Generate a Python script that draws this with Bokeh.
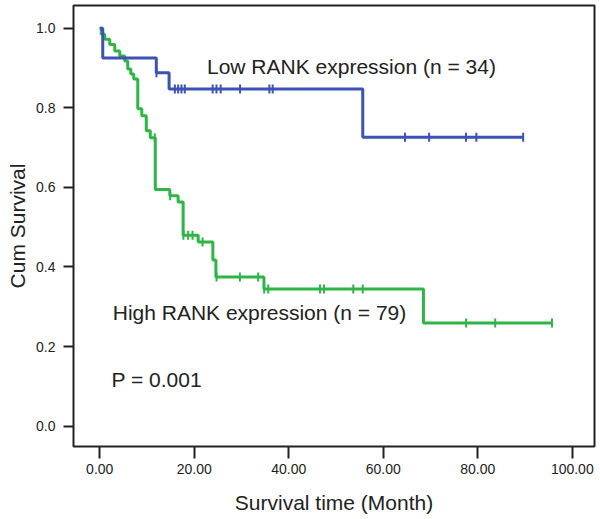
import numpy as np
from bokeh.plotting import figure
from bokeh.models import Label, PrintfTickFormatter, FixedTicker, Range1d
from bokeh.embed import file_html
from bokeh.resources import INLINE

# ---- data ----
low_event_times = [0.64, 11.97, 14.68, 55.66]
low_event_surv = [0.925, 0.888, 0.847, 0.726]
low_censor_times = [12.0, 15.9, 16.6, 17.3, 18.0, 23.9, 24.7, 25.6, 29.7, 35.9, 36.6,
                    64.6, 69.7, 77.5, 79.7, 89.6]
low_end_time = 89.6

high_event_times = [0.32, 1.06, 2.12, 3.18, 4.24, 5.30, 5.93, 6.57, 7.20, 8.05, 8.90,
                    9.85, 10.70, 11.76, 14.83, 16.59, 17.65, 20.83, 23.94, 24.58, 34.75, 68.5]
high_event_surv = [0.985, 0.9725, 0.959, 0.9425, 0.93, 0.9175, 0.8975, 0.885, 0.8725,
                   0.7975, 0.78, 0.7425, 0.725, 0.595, 0.579, 0.563, 0.48, 0.463,
                   0.4175, 0.375, 0.345, 0.259]
high_censor_times = [11.65, 14.9, 17.7, 18.71, 19.64, 21.76, 24.72, 29.66, 33.54,
                     34.8, 35.66, 46.6, 47.46, 53.66, 55.66, 77.54, 83.69, 95.7]
high_end_time = 95.7

x_ticks = [0, 20, 40, 60, 80, 100]
y_ticks = [0.0, 0.2, 0.4, 0.6, 0.8, 1.0]

low_label = "Low RANK expression (n = 34)"
high_label = "High RANK expression (n = 79)"
p_label = "P = 0.001"

BLUE = "#3c52b4"
GREEN = "#2fb446"
FONT = "Liberation Sans"
INK = "#222222"


def step_arrays(ev_t, ev_s, end_t):
    xs = [0.0] + list(ev_t) + [end_t]
    ys = [1.0] + list(ev_s) + [ev_s[-1]]
    return xs, ys


def surv_at(ev_t, ev_s, t):
    s = 1.0
    for et, es in zip(ev_t, ev_s):
        if et <= t:
            s = es
    return s


p = figure(width=598, height=516, output_backend="svg", toolbar_location=None,
           x_range=Range1d(-5.55, 104.7), y_range=Range1d(-0.051, 1.057),
           min_border_left=73, min_border_right=4, min_border_top=5, min_border_bottom=68)
p.background_fill_color = "white"
p.border_fill_color = "white"
p.outline_line_color = INK
p.outline_line_width = 2
p.grid.visible = False

for ev_t, ev_s, c_t, end_t, col in [
    (high_event_times, high_event_surv, high_censor_times, high_end_time, GREEN),
    (low_event_times, low_event_surv, low_censor_times, low_end_time, BLUE),
]:
    xs, ys = step_arrays(ev_t, ev_s, end_t)
    p.step(xs, ys, mode="after", line_color=col, line_width=3)
    cs = [surv_at(ev_t, ev_s, t) for t in c_t]
    p.scatter(c_t, cs, marker="dash", angle=np.pi / 2, size=9,
              line_color=col, line_width=2)

# axes
p.xaxis.ticker = FixedTicker(ticks=x_ticks)
p.yaxis.ticker = FixedTicker(ticks=y_ticks)
p.xaxis.formatter = PrintfTickFormatter(format="%.2f")
p.yaxis.formatter = PrintfTickFormatter(format="%.1f")
for ax in (p.xaxis, p.yaxis):
    ax.axis_line_color = None
    ax.major_tick_line_color = INK
    ax.major_tick_line_width = 2
    ax.major_tick_in = 0
    ax.minor_tick_line_color = None
    ax.major_label_text_font = FONT
    ax.major_label_text_font_size = "14px"
    ax.major_label_text_color = INK
    ax.axis_label_text_font = FONT
    ax.axis_label_text_font_size = "21px"
    ax.axis_label_text_font_style = "normal"
    ax.axis_label_text_color = INK
p.xaxis.major_tick_out = 12
p.yaxis.major_tick_out = 10
p.xaxis.major_label_standoff = 5
p.yaxis.major_label_standoff = 8
p.xaxis.axis_label = "Survival time (Month)"
p.yaxis.axis_label = "Cum Survival"
p.xaxis.axis_label_standoff = 14
p.yaxis.axis_label_standoff = 4

for txt, x, y in [(low_label, 22.7, 0.903), (high_label, 2.75, 0.285), (p_label, 2.5, 0.1175)]:
    p.add_layout(Label(x=x, y=y, text=txt, text_font=FONT, text_font_size="21px",
                       text_baseline="middle", text_align="left", text_color=INK))

open("out.html", "w").write(file_html(p, INLINE))
